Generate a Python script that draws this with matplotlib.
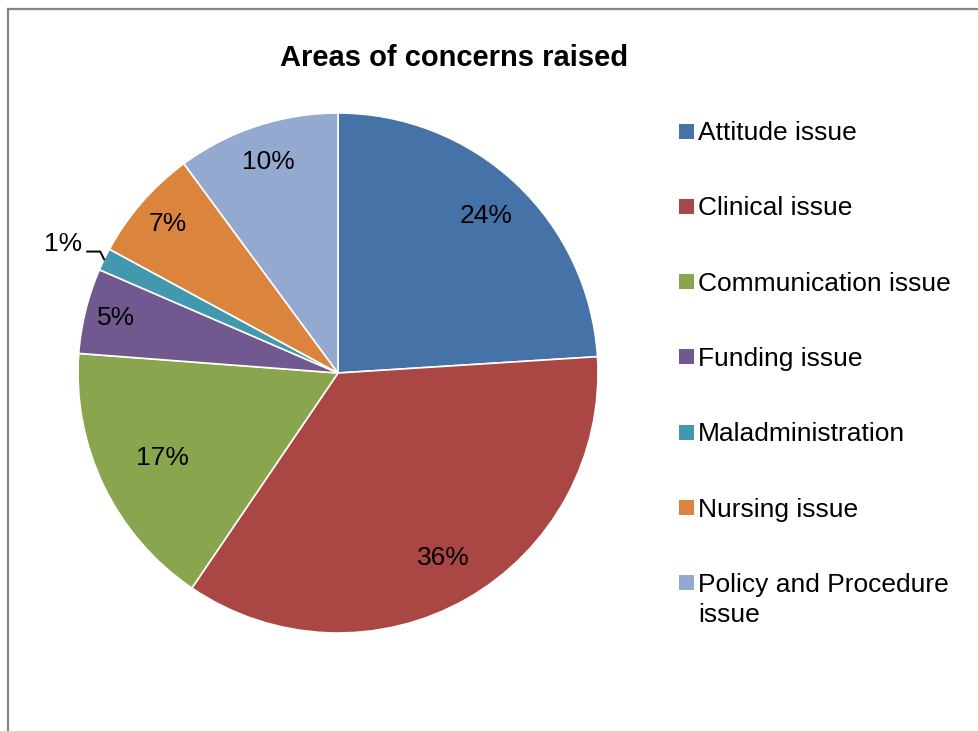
import numpy as np
import matplotlib
matplotlib.use('Agg')
import matplotlib.pyplot as plt
from matplotlib.lines import Line2D
from matplotlib.patches import Rectangle

plt.rcParams['font.family'] = ['Liberation Sans', 'DejaVu Sans']

# data (shares)
labels = ['Attitude issue', 'Clinical issue', 'Communication issue', 'Funding issue',
          'Maladministration', 'Nursing issue', 'Policy and Procedure\nissue']
values = [24.0, 35.5, 16.7, 5.3, 1.4, 7.0, 10.1]
colors = ['#4572A7', '#AA4643', '#89A54E', '#71588F', '#4198AF', '#DB843D', '#93A9CF']
# how far from the centre each percent label sits (Excel "best fit")
label_dist = [0.83, 0.82, 0.75, 0.88, None, 0.87, 0.855]

fig = plt.figure(figsize=(9.79, 7.31), dpi=100)
fig.patch.set_facecolor('white')

# gray frame (top and left edges only, screenshot is cropped)
fig.add_artist(Line2D([8/979, 1], [1 - 9/731, 1 - 9/731], transform=fig.transFigure,
                      color='#868686', lw=1.6))
fig.add_artist(Line2D([8/979, 8/979], [0, 1 - 9/731], transform=fig.transFigure,
                      color='#868686', lw=1.6))

fig.text(454/979, 1 - 58/731, 'Areas of concerns raised', ha='center', va='center',
         fontsize=21, fontweight='bold')

ax = fig.add_axes([78/979, 98/731, 520/979, 520/731])
wedges, _ = ax.pie(values, colors=colors, startangle=90, counterclock=False,
                   wedgeprops=dict(edgecolor='white', linewidth=1.2))
ax.set_xlim(-1, 1)
ax.set_ylim(-1, 1)
ax.set_aspect('equal')
ax.axis('off')

total = sum(values)
for w, v, d in zip(wedges, values, label_dist):
    ang = np.deg2rad((w.theta1 + w.theta2) / 2)
    txt = '%d%%' % round(100 * v / total)
    if d is not None:
        ax.text(d * np.cos(ang), d * np.sin(ang), txt, ha='center', va='center', fontsize=19)
    else:
        # small slice: label outside with a leader line
        ex, ey = np.cos(ang), np.sin(ang)
        tx, ty = ex - 0.085, ey + 0.06
        ax.text(tx, ty, txt, ha='right', va='center', fontsize=19, clip_on=False)
        ax.add_line(Line2D([ex - 0.065, ex - 0.015, ex], [ey + 0.03, ey + 0.03, ey],
                           color='black', lw=1.4, clip_on=False))

# legend built by hand so the two-line entry lines up like the original
for i, (lab, col) in enumerate(zip(labels, colors)):
    yc = 131 + 75.3 * i
    fig.add_artist(Rectangle((679/979, 1 - (yc + 7.5)/731), 15/979, 15/731,
                             transform=fig.transFigure, facecolor=col, edgecolor='none'))
    fig.text(698/979, 1 - (yc - 10)/731, lab, ha='left', va='top', fontsize=19,
             linespacing=1.3)

fig.savefig('out.png', dpi=100, facecolor='white')
